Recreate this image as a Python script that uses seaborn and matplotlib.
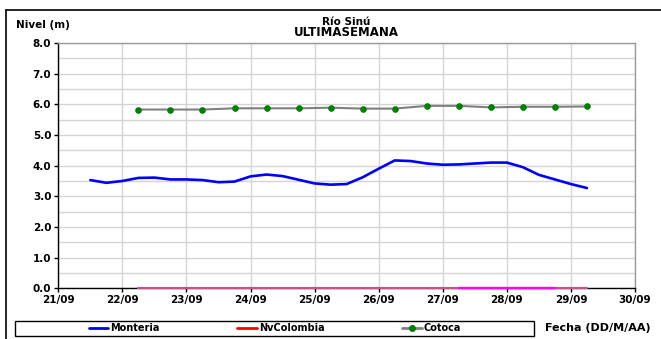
import numpy as np
import pandas as pd
import matplotlib
matplotlib.use("Agg")
import matplotlib.pyplot as plt
import matplotlib.dates as mdates
from matplotlib.lines import Line2D
from matplotlib.ticker import MultipleLocator, FormatStrFormatter
import seaborn as sns

# --- data ---
monteria_start = "2012-09-21 12:00"
monteria = [3.53, 3.44, 3.50, 3.60, 3.61, 3.55, 3.55, 3.53, 3.46, 3.48, 3.65,
            3.71, 3.66, 3.54, 3.42, 3.38, 3.40, 3.62, 3.90, 4.17, 4.15, 4.07,
            4.03, 4.04, 4.07, 4.10, 4.10, 3.95, 3.70, 3.55, 3.40, 3.27]

cotoca_start = "2012-09-22 06:00"
cotoca = [5.83, 5.83, 5.83, 5.87, 5.87, 5.87, 5.89, 5.86, 5.86, 5.95, 5.95,
          5.90, 5.92, 5.92, 5.93]

nvcolombia_start = "2012-09-22 06:00"
nvcolombia = [0.0] * 15

extra_start = "2012-09-27 06:00"
extra = [0.0, 0.0, 0.0, 0.0]

x_start, x_end = "2012-09-21", "2012-09-30"

mon_df = pd.DataFrame({"fecha": pd.date_range(monteria_start, periods=len(monteria), freq="6h"),
                       "nivel": monteria})
cot_df = pd.DataFrame({"fecha": pd.date_range(cotoca_start, periods=len(cotoca), freq="12h"),
                       "nivel": cotoca})
nv_df = pd.DataFrame({"fecha": pd.date_range(nvcolombia_start, periods=len(nvcolombia), freq="12h"),
                      "nivel": nvcolombia})
ex_df = pd.DataFrame({"fecha": pd.date_range(extra_start, periods=len(extra), freq="12h"),
                      "nivel": extra})

sns.set_style("white")
plt.rcParams['font.family'] = ['DejaVu Sans']
plt.rcParams['font.weight'] = 'bold'
plt.rcParams['text.color'] = 'black'
plt.rcParams['xtick.color'] = 'black'
plt.rcParams['ytick.color'] = 'black'

W, H = 661, 339
fig = plt.figure(figsize=(W / 100, H / 100), dpi=100)
ax = fig.add_axes([58.3 / W, 1 - 288.3 / H, (635 - 58.3) / W, (288.3 - 43) / H])

sns.lineplot(data=nv_df, x="fecha", y="nivel", ax=ax, color="#c4548e", lw=1.6,
             zorder=6, clip_on=False)
sns.lineplot(data=ex_df, x="fecha", y="nivel", ax=ax, color="#ff00ff", lw=1.6,
             zorder=6, clip_on=False)
sns.lineplot(data=mon_df, x="fecha", y="nivel", ax=ax, color="#0000ff", lw=1.9,
             zorder=4, solid_joinstyle="round")
sns.lineplot(data=cot_df, x="fecha", y="nivel", ax=ax, color="#808080", lw=1.5,
             marker="o", markersize=4, markerfacecolor="#008000",
             markeredgecolor="#008000", zorder=5)

ax.set_xlim(pd.Timestamp(x_start), pd.Timestamp(x_end))
ax.set_ylim(0, 8)
ax.xaxis.set_major_locator(mdates.DayLocator())
ax.xaxis.set_major_formatter(mdates.DateFormatter("%d/%m"))
ax.yaxis.set_major_locator(MultipleLocator(1))
ax.yaxis.set_minor_locator(MultipleLocator(0.5))
ax.yaxis.set_major_formatter(FormatStrFormatter("%.1f"))
ax.grid(True, which="both", color="#d4d4d4", lw=1.0, zorder=0)
ax.set_axisbelow(True)
ax.set_xlabel("")
ax.set_ylabel("")
for s in ["left", "bottom"]:
    ax.spines[s].set_color("black")
    ax.spines[s].set_linewidth(1.0)
for s in ["top", "right"]:
    ax.spines[s].set_color("#9a9a9a")
    ax.spines[s].set_linewidth(1.0)
ax.tick_params(axis="both", which="major", labelsize=7.5, length=3, width=1,
               color="black", labelcolor="black", direction="out",
               left=True, bottom=True, pad=2)
ax.tick_params(axis="y", which="minor", length=0)
for lab in ax.get_xticklabels() + ax.get_yticklabels():
    lab.set_fontweight("bold")

# titles and axis labels
fig.text(346.6 / W, 1 - 22 / H, "Río Sinú", ha="center", va="center", fontsize=7.5, fontweight="bold")
fig.text(346.6 / W, 1 - 33 / H, "ULTIMASEMANA", ha="center", va="center", fontsize=8.5, fontweight="bold")
fig.text(16 / W, 1 - 25 / H, "Nivel (m)", ha="left", va="center", fontsize=7.5, fontweight="bold")
fig.text(545 / W, 1 - 328 / H, "Fecha (DD/M/AA)", ha="left", va="center", fontsize=8, fontweight="bold")

# outer frame
fig.add_artist(Line2D([6 / W, 6 / W], [0, 1 - 10 / H], color="black", lw=1.2, transform=fig.transFigure))
fig.add_artist(Line2D([6 / W, 1], [1 - 10 / H, 1 - 10 / H], color="black", lw=1.2, transform=fig.transFigure))

# legend box
box = plt.Rectangle((15 / W, 1 - 336 / H), (534 - 15) / W, (336 - 320.7) / H,
                    transform=fig.transFigure, fill=False, edgecolor="black", lw=1.0)
fig.add_artist(box)
handles = [Line2D([], [], color="#0000ff", lw=2),
           Line2D([], [], color="#ff0000", lw=2),
           Line2D([], [], color="#808080", lw=2, marker="o", markersize=4,
                  markerfacecolor="#008000", markeredgecolor="#008000")]
fig.legend(handles, ["Monteria", "NvColombia", "Cotoca"], loc="center",
           bbox_to_anchor=(275 / W, 1 - 328.3 / H), ncol=3, frameon=False,
           handlelength=2, handletextpad=0.2, columnspacing=8.0,
           prop={"weight": "bold", "size": 7})

fig.savefig("out.png", dpi=100)
